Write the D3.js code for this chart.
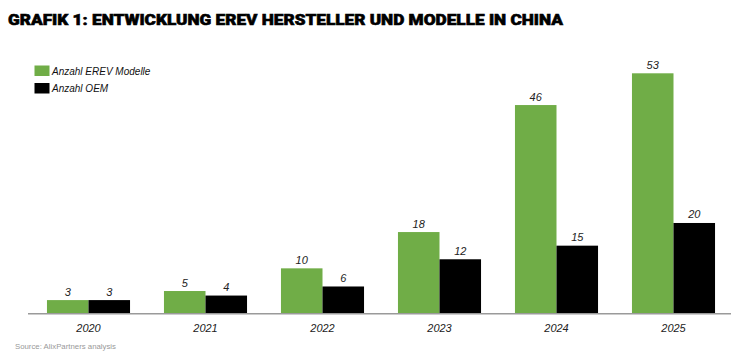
<!DOCTYPE html>
<html><head><meta charset="utf-8">
<script src="https://cdn.jsdelivr.net/npm/d3@7"></script>
<style>body{margin:0;background:#fff}svg{display:block}</style>
</head><body>
<svg id="c" width="746" height="356"></svg>
<script>
const years = ["2020","2021","2022","2023","2024","2025"];
const seriesNames = ["Anzahl EREV Modelle","Anzahl OEM"];
const erevModels = [3,5,10,18,46,53];
const oemCount = [3,4,6,12,15,20];
const colors = ["#70ad47","#000000"];
const title = "GRAFIK 1: ENTWICKLUNG EREV HERSTELLER UND MODELLE IN CHINA";
const source = "Source: AlixPartners analysis";

const svg = d3.select("#c");
const baseY = 313.7;
const x = d3.scaleBand().domain(years).range([30,732]).paddingInner(0.29).paddingOuter(0.145);
const xs = d3.scaleBand().domain([0,1]).range([0,x.bandwidth()]);
const y = d3.scaleLinear().domain([0,53]).range([baseY,73.3]);

svg.append("text").attr("x",8).attr("y",25).text(title)
  .attr("font-family","Roboto, 'Liberation Sans', sans-serif").attr("font-weight",900)
  .attr("font-size",15.5).attr("textLength",555).attr("lengthAdjust","spacingAndGlyphs")
  .attr("fill","#000").attr("stroke","#000").attr("stroke-width",0.6);

const data = [erevModels, oemCount];
data.forEach((vals,si)=>{
  const g = svg.append("g");
  g.selectAll("rect").data(vals).join("rect")
    .attr("x",(d,i)=>x(years[i])+xs(si)).attr("width",xs.bandwidth())
    .attr("y",d=>y(d)).attr("height",d=>baseY-y(d)).attr("fill",colors[si]);
  g.selectAll("text").data(vals).join("text")
    .attr("x",(d,i)=>x(years[i])+xs(si)+xs.bandwidth()/2).attr("y",d=>y(d)-4.5)
    .attr("text-anchor","middle").attr("font-family","'Liberation Sans', Arial, sans-serif")
    .attr("font-style","italic").attr("font-size",11).attr("fill","#222").text(d=>d);
});

const axis = svg.append("g").attr("transform",`translate(0,${baseY})`)
  .call(d3.axisBottom(x).tickSize(0).tickPadding(11));
axis.select(".domain").attr("stroke","#9a9a9a").attr("stroke-width",1.5).attr("d","M28,0H731");
axis.selectAll(".tick text").attr("font-family","'Liberation Sans', Arial, sans-serif")
  .attr("font-style","italic").attr("font-size",11).attr("fill","#222");

const leg = svg.append("g");
seriesNames.forEach((n,i)=>{
  leg.append("rect").attr("x",34.5).attr("y",65.5+i*17.5).attr("width",15).attr("height",10.5).attr("fill",colors[i]);
  leg.append("text").attr("x",52).attr("y",74.5+i*17.5).text(n)
    .attr("font-family","'Liberation Sans', Arial, sans-serif").attr("font-style","italic")
    .attr("font-size",10).attr("fill","#111");
});

svg.append("text").attr("x",15).attr("y",349).text(source)
  .attr("font-family","'Liberation Sans', Arial, sans-serif").attr("font-size",7.8).attr("fill","#999");
</script>
</body></html>
